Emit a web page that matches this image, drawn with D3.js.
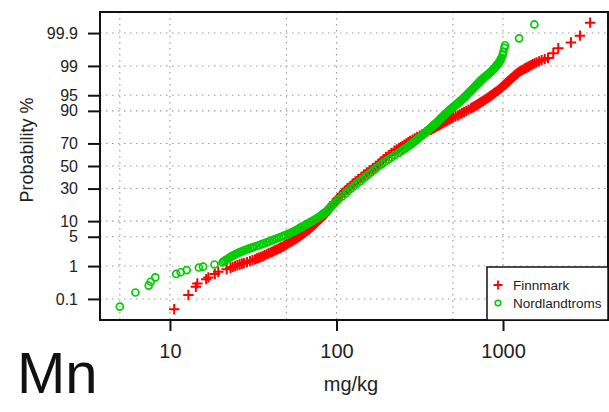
<!DOCTYPE html>
<html><head><meta charset="utf-8">
<script src="https://cdn.jsdelivr.net/npm/d3@7"></script>
<style>
html,body{margin:0;padding:0;background:#fff;}
svg{display:block;font-family:"Liberation Sans",Arial,Helvetica,sans-serif;}
</style></head>
<body><svg id="chart" width="609" height="412"></svg>
<script>
// ---- data ----
const yTickLabels = [0.1, 1, 5, 10, 30, 50, 70, 90, 95, 99, 99.9];
const xTickLabels = [10, 100, 1000];
const xGridValues = [5, 10, 50, 100, 500, 1000];
const seriesNames = ["Finnmark", "Nordlandtroms"];

// Finnmark: probability (%) and value (mg/kg)
const finnmarkProb = [0.0434, 0.135, 0.248, 0.317, 0.427, 0.480, 0.604, 0.695, 0.820,
 0.9, 1.0, 1.1, 1.2, 1.35, 1.5, 1.65, 1.8, 2.0, 2.2, 2.4, 2.6, 2.8, 3.0, 3.3, 3.6, 4.0, 4.4, 4.8, 5.2,
 5.6, 6.0, 6.5, 7.0, 7.5, 8.0, 8.5, 9.0, 10, 11, 12, 13, 14, 15, 16, 17, 18, 19, 20,
 22, 24, 26, 28, 30, 32, 34, 36, 38, 40, 42, 44, 46, 48, 50,
 52, 54, 56, 58, 60, 62, 64, 66, 68, 70, 72, 74, 76, 78, 80,
 81, 82, 83, 84, 85, 86, 87, 88, 89, 90, 91, 91.5, 92, 92.5, 93, 93.5, 94, 94.4, 94.8, 95.2,
 95.6, 96, 96.4, 96.7, 97, 97.2, 97.4, 97.6, 97.8, 98, 98.2, 98.35, 98.5, 98.65, 98.8, 98.9, 99.0, 99.1, 99.2, 99.3,
 99.4, 99.56, 99.69, 99.795, 99.878, 99.957];
const finnmarkValue = [10.6, 12.9, 14.3, 14.6, 16.5, 17.0, 18.6, 19.5, 21.9,
 23.1, 24.6, 26.2, 27.8, 30.2, 32.4, 34.2, 36.1, 38.0, 40.0, 42.0, 43.8, 45.6, 47.3, 49.3, 51.3, 54.0, 56.5, 58.5, 60.4,
 62.2, 64.0, 66.1, 68.0, 69.7, 71.3, 73.0, 74.6, 77.4, 80.0, 82.4, 84.9, 86.9, 88.7, 90.4, 92.0, 93.8, 95.3, 96.8,
 100.5, 104.5, 108, 112, 116, 121, 125, 130, 135, 141, 146, 152, 158, 165, 172,
 178, 184, 191, 198, 206, 214, 223, 237, 249, 263, 277, 295, 316, 340, 367,
 382, 398, 415, 434, 454, 476, 501, 535, 566, 601, 641, 664, 687, 710, 733, 760, 789, 815, 839, 867,
 895, 929, 966, 989, 1016, 1038, 1057, 1081, 1107, 1138, 1172, 1202, 1233, 1276, 1340, 1390, 1445, 1510, 1589, 1706,
 1862, 2004, 2147, 2558, 2897, 3335];
// further Finnmark readings where the band is dense
const finnmarkProb2 = [0.95, 1.05, 1.15, 1.275, 1.425, 1.575, 1.725, 1.9, 2.1, 2.3, 2.5, 2.7, 2.9, 3.15, 3.45, 3.8,
 4.2, 4.6, 5.0, 5.4, 5.8, 6.25, 6.75, 7.25, 7.75, 8.25, 8.75, 9.5, 10.5, 11.5, 12.5, 13.5,
 65, 67, 69, 71, 73, 75, 77, 79, 80.5, 81.5, 82.5, 83.5, 84.5, 85.5, 86.5, 87.5, 88.5, 89.5, 90.5,
 91.25, 91.75, 92.25, 92.75, 93.25, 93.75, 94.2, 94.6, 95.0, 95.4, 95.8, 96.2, 96.55, 96.85, 97.1, 97.3, 97.5, 97.7,
 97.9, 98.1, 98.275, 98.425, 98.575, 98.725, 98.85, 98.95, 99.05, 99.15, 99.25, 99.35];
const finnmarkValue2 = [23.8, 25.4, 27.0, 29.0, 31.3, 33.3, 35.1, 37.0, 39.0, 41.0, 42.9, 44.7, 46.4, 48.3, 50.3, 52.6,
 55.2, 57.5, 59.4, 61.3, 63.1, 65.0, 67.0, 68.8, 70.5, 72.1, 73.8, 76.0, 78.7, 81.2, 83.6, 85.9,
 230, 243, 256, 270, 286, 305, 328, 353, 374, 390, 406, 424, 444, 465, 488, 518, 550, 583, 620,
 652, 675, 698, 721, 746, 774, 802, 827, 853, 881, 912, 947, 977, 1002, 1027, 1047, 1069, 1094,
 1122, 1155, 1187, 1217, 1254, 1308, 1365, 1417, 1477, 1549, 1646, 1780];

// Nordlandtroms: probability (%) and value (mg/kg)
const nordProb = [0.054, 0.164, 0.272, 0.357, 0.480, 0.604, 0.676, 0.776, 0.914, 0.964, 1.10, 1.25,
 1.35, 1.5, 1.65, 1.8, 2.0, 2.2, 2.4, 2.6, 2.8, 3.0, 3.3, 3.6, 4.0, 4.4, 4.8, 5.2, 5.6, 6.0, 6.5, 7.0,
 7.5, 8.0, 8.5, 9.0, 10, 11, 12, 13, 14, 15, 16, 17, 18, 19, 20,
 22, 24, 26, 28, 30, 32, 34, 36, 38, 40, 42, 44, 46, 48, 50,
 52, 54, 56, 58, 60, 62, 64, 66, 68, 70, 72, 74, 76, 78, 80,
 81, 82, 83, 84, 85, 86, 87, 88, 89, 90, 91, 91.5, 92, 92.5, 93, 93.5, 94, 94.4, 94.8, 95.2,
 95.6, 96, 96.4, 96.7, 97, 97.2, 97.4, 97.6, 97.8, 98, 98.2, 98.35, 98.5, 98.65, 98.8, 98.9, 99.0, 99.1, 99.2, 99.3,
 99.4, 99.5, 99.6, 99.7, 99.75, 99.85, 99.95];
const nordValue = [5.0, 6.2, 7.45, 7.66, 8.16, 10.9, 11.6, 12.6, 14.9, 15.8, 18.5, 20.7,
 21.1, 22.0, 22.8, 23.5, 24.7, 25.9, 27.3, 28.8, 30.3, 31.9, 34.4, 36.7, 39.5, 42.3, 45.2, 48.1, 50.8, 53.1, 55.8, 58.3,
 60.5, 62.8, 64.9, 67.0, 71.3, 75.5, 79.3, 82.4, 85.3, 87.9, 90.4, 92.5, 94.6, 96.6, 98.8,
 103, 108, 113, 117, 122, 127, 132, 138, 143, 149, 155, 161, 167, 173, 180,
 188, 196, 205, 214, 224, 236, 247, 259, 272, 284, 298, 311, 325, 340, 357,
 366, 376, 385, 396, 406, 417, 428, 441, 455, 473, 492, 504, 515, 527, 541, 555, 571, 585, 598, 611,
 625, 643, 661, 676, 692, 705, 718, 731, 748, 769, 793, 813, 834, 857, 879, 897, 912, 929, 946, 964,
 979, 995, 1005, 1019, 1028, 1248, 1542];
// further Nordlandtroms readings where the band is dense
const nordProb2 = [1.425, 1.575, 1.725, 1.9, 2.1, 2.3, 2.5, 2.7, 2.9, 3.15, 3.45, 3.8, 4.2, 4.6, 5.0, 5.4, 5.8,
 6.25, 6.75, 7.25, 7.75, 8.25, 8.75, 9.5, 10.5, 11.5, 12.5, 13.5,
 65, 67, 69, 71, 73, 75, 77, 79, 80.5, 81.5, 82.5, 83.5, 84.5, 85.5, 86.5, 87.5, 88.5, 89.5, 90.5,
 91.25, 91.75, 92.25, 92.75, 93.25, 93.75, 94.2, 94.6, 95.0, 95.4, 95.8, 96.2, 96.55, 96.85, 97.1, 97.3, 97.5, 97.7,
 97.9, 98.1, 98.275, 98.425, 98.575, 98.725, 98.85, 98.95, 99.05, 99.15, 99.25, 99.35];
const nordValue2 = [21.5, 22.4, 23.1, 24.1, 25.3, 26.6, 28.0, 29.5, 31.1, 33.1, 35.5, 38.1, 40.9, 43.7, 46.6, 49.4, 51.9,
 54.4, 57.0, 59.4, 61.6, 63.8, 65.9, 69.1, 73.4, 77.4, 80.8, 83.8,
 253, 265, 278, 291, 304, 318, 332, 348, 361, 371, 380, 390, 401, 411, 422, 434, 448, 464, 482,
 498, 509, 521, 534, 548, 563, 578, 591, 604, 618, 634, 652, 668, 684, 698, 711, 724, 739,
 758, 781, 803, 823, 845, 868, 888, 904, 920, 937, 955, 971];

// ---- layout ----
const L = 100, R = 608, T = 12, B = 320;
const RED = "#ff0000", GREEN = "#00cd00";

function qnorm(p){
  const a=[-3.969683028665376e+01,2.209460984245205e+02,-2.759285104469687e+02,1.383577518672690e+02,-3.066479806614716e+01,2.506628277459239e+00];
  const b=[-5.447609879822406e+01,1.615858368580409e+02,-1.556989798598866e+02,6.680131188771972e+01,-1.328068155288572e+01];
  const c=[-7.784894002430293e-03,-3.223964580411365e-01,-2.400758277161838e+00,-2.549732539343734e+00,4.374664141464968e+00,2.938163982698783e+00];
  const d=[7.784695709041462e-03,3.224671290700398e-01,2.445134137142996e+00,3.754408661907416e+00];
  const pl=0.02425, ph=1-pl; let q,r;
  if(p<pl){q=Math.sqrt(-2*Math.log(p));return (((((c[0]*q+c[1])*q+c[2])*q+c[3])*q+c[4])*q+c[5])/((((d[0]*q+d[1])*q+d[2])*q+d[3])*q+1);}
  if(p<=ph){q=p-0.5;r=q*q;return (((((a[0]*r+a[1])*r+a[2])*r+a[3])*r+a[4])*r+a[5])*q/(((((b[0]*r+b[1])*r+b[2])*r+b[3])*r+b[4])*r+1);}
  q=Math.sqrt(-2*Math.log(1-p));return -(((((c[0]*q+c[1])*q+c[2])*q+c[3])*q+c[4])*q+c[5])/((((d[0]*q+d[1])*q+d[2])*q+d[3])*q+1);
}

const x = d3.scaleLog().domain([3.8, 4270]).range([L, R]);
const zScale = d3.scaleLinear().domain([-3.58, 3.58]).range([B, T]);
// probit scale (percent -> pixel) built on a d3 linear scale
function makeProbit(lin){
  const s = p => lin(qnorm(p/100));
  s.copy = () => makeProbit(lin.copy());
  s.range = () => lin.range();
  s.domain = () => [0.0, 100];
  return s;
}
const y = makeProbit(zScale);

const svg = d3.select("#chart");
svg.append("rect").attr("width",609).attr("height",412).attr("fill","#fff");

// grid
const grid = svg.append("g").attr("stroke","#9a9a9a").attr("stroke-width",1.1).attr("stroke-dasharray","1.5,4.5");
grid.selectAll("line.h").data(yTickLabels).join("line")
  .attr("x1",L).attr("x2",R).attr("y1",d=>y(d)).attr("y2",d=>y(d));
grid.selectAll("line.v").data(xGridValues).join("line")
  .attr("y1",T).attr("y2",B).attr("x1",d=>x(d)).attr("x2",d=>x(d));

// y axis
const yAxis = svg.append("g").attr("transform",`translate(${L},0)`)
  .call(d3.axisLeft(y).tickValues(yTickLabels).tickSize(12).tickSizeOuter(0).tickPadding(10).tickFormat(d=>String(d)));
yAxis.select(".domain").remove();
yAxis.selectAll("line").attr("stroke","#111").attr("stroke-width",2);
yAxis.selectAll("text").attr("font-size",16).attr("fill","#222").attr("font-family","Liberation Sans, Arial, sans-serif");

// x axis
const xAxis = svg.append("g").attr("transform",`translate(0,${B})`)
  .call(d3.axisBottom(x).tickValues(xTickLabels).tickSize(11).tickSizeOuter(0).tickPadding(13).tickFormat(d=>String(d)));
xAxis.select(".domain").remove();
xAxis.selectAll("line").attr("stroke","#111").attr("stroke-width",2);
xAxis.selectAll("text").attr("font-size",20).attr("fill","#222").attr("font-family","Liberation Sans, Arial, sans-serif");

// points
const finn = d3.zip(finnmarkValue.concat(finnmarkValue2), finnmarkProb.concat(finnmarkProb2));
const nord = d3.zip(nordValue.concat(nordValue2), nordProb.concat(nordProb2));
const plus = svg.append("g").attr("stroke",RED).attr("stroke-width",2).attr("fill","none");
plus.selectAll("path").data(finn).join("path")
  .attr("d", d => { const px=x(d[0]), py=y(d[1]), h=5.2; return `M${px-h},${py}H${px+h}M${px},${py-h}V${py+h}`; });
svg.append("g").attr("stroke",GREEN).attr("stroke-width",1.7).attr("fill","none")
  .selectAll("circle").data(nord).join("circle")
  .attr("cx",d=>x(d[0])).attr("cy",d=>y(d[1])).attr("r",3.5);

// box
svg.append("rect").attr("x",L).attr("y",T).attr("width",R-L).attr("height",B-T)
  .attr("fill","none").attr("stroke","#111").attr("stroke-width",2);

// legend
const lg = svg.append("g");
lg.append("rect").attr("x",487).attr("y",267).attr("width",R-487).attr("height",B-267)
  .attr("fill","#fff").attr("stroke","#111").attr("stroke-width",1.5);
lg.append("path").attr("d","M493.5,285H502.5M498,280.5V289.5").attr("stroke",RED).attr("stroke-width",1.8);
lg.append("circle").attr("cx",498).attr("cy",303).attr("r",2.8).attr("fill","none").attr("stroke",GREEN).attr("stroke-width",1.6);
lg.selectAll("text").data(seriesNames).join("text")
  .attr("x",513).attr("y",(d,i)=>290+i*18).attr("font-size",13.5).attr("fill","#222").text(d=>d);

// titles
svg.append("text").attr("transform","translate(33,150) rotate(-90)").attr("text-anchor","middle")
  .attr("font-size",18).attr("fill","#222").text("Probability %");
svg.append("text").attr("x",351).attr("y",391).attr("text-anchor","middle")
  .attr("font-size",20).attr("fill","#222").text("mg/kg");
svg.append("text").attr("x",17).attr("y",393).attr("font-size",58).attr("fill","#111").text("Mn");
</script></body></html>
